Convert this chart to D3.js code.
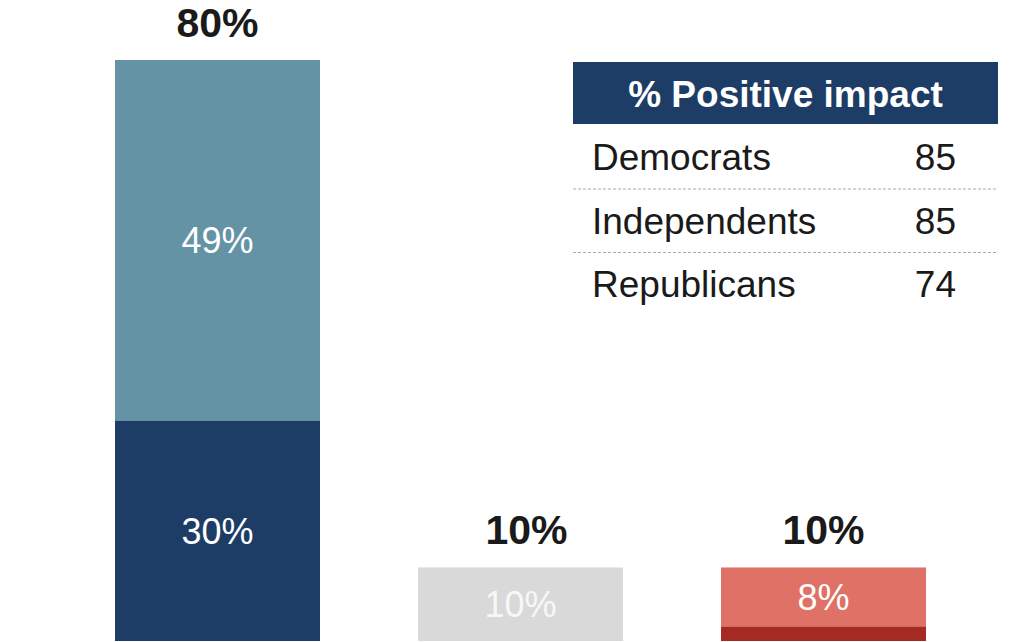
<!DOCTYPE html>
<html>
<head>
<meta charset="utf-8">
<script src="https://cdn.jsdelivr.net/npm/d3@7"></script>
<style>
  body { margin: 0; background: #fff; }
  svg { display: block; font-family: "Liberation Sans", Arial, sans-serif; }
</style>
</head>
<body>
<script>
// chart data
const categories = ["Positive impact", "No impact", "Negative impact"];
const lowerValues = [30, 10, 2];
const upperValues = [49, 0, 8];
const totalLabels = ["80%", "10%", "10%"];
const lowerColors = ["#1d3d66", "#d9d9d9", "#a52b22"];
const upperColors = ["#6593a6", "#d9d9d9", "#e07166"];

const tableTitle = "% Positive impact";
const tableRows = ["Democrats", "Independents", "Republicans"];
const tableValues = [85, 85, 74];

const w = 1013, h = 642;

const svg = d3.select("body").append("svg")
    .attr("width", w)
    .attr("height", h);

const rows = categories.map((c, i) => ({cat: c, lower: lowerValues[i], upper: upperValues[i], i: i}));
const stacked = d3.stack().keys(["lower", "upper"])(rows);

const x = d3.scaleBand()
    .domain(categories)
    .range([115, 926])
    .paddingInner(98 / 303)
    .paddingOuter(0);

const y = d3.scaleLinear()
    .domain([0, 79])
    .range([641, 60]);

stacked.forEach(layer => {
    const colors = layer.key === "lower" ? lowerColors : upperColors;
    const g = svg.append("g").attr("class", "layer-" + layer.key);
    g.selectAll("rect")
        .data(layer.filter(d => d[1] > d[0]))
        .enter()
        .append("rect")
        .attr("x", d => x(d.data.cat))
        .attr("y", d => y(d[1]))
        .attr("width", x.bandwidth())
        .attr("height", d => y(d[0]) - y(d[1]))
        .attr("fill", d => colors[d.data.i]);

    g.selectAll("text")
        .data(layer.filter(d => d[1] - d[0] >= 5))
        .enter()
        .append("text")
        .attr("x", d => x(d.data.cat) + x.bandwidth() / 2)
        .attr("y", d => (y(d[0]) + y(d[1])) / 2)
        .attr("dy", "0.36em")
        .attr("text-anchor", "middle")
        .style("font-size", "36px")
        .attr("fill", d => d.data.i === 1 ? "#f7f7f7" : "#ffffff")
        .text(d => (d[1] - d[0]) + "%");
});

// totals above bars (middle one sits a bit right in the original)
svg.selectAll(".total")
    .data(rows)
    .enter()
    .append("text")
    .attr("class", "total")
    .attr("x", d => x(d.cat) + x.bandwidth() / 2)
    .attr("dx", d => d.i === 1 ? 6 : 0)
    .attr("y", d => y(d.lower + d.upper) - 23)
    .attr("text-anchor", "middle")
    .style("font-size", "41px")
    .style("font-weight", "bold")
    .attr("fill", "#1a1a1a")
    .text(d => totalLabels[d.i]);

// side table
const tx = 573, tw = 425, rowH = 63.5;
const table = svg.append("g").attr("class", "table");

table.append("rect")
    .attr("x", tx)
    .attr("y", 62)
    .attr("width", tw)
    .attr("height", 62)
    .attr("fill", "#1d3d66");

table.append("text")
    .attr("x", tx + tw / 2)
    .attr("y", 107)
    .attr("text-anchor", "middle")
    .style("font-size", "37px")
    .style("font-weight", "bold")
    .attr("fill", "#fff")
    .text(tableTitle);

tableRows.forEach((r, i) => {
    const base = 170 + i * rowH;
    table.append("text")
        .attr("x", 592)
        .attr("y", base)
        .style("font-size", "37px")
        .attr("fill", "#1a1a1a")
        .text(r);
    table.append("text")
        .attr("x", 956)
        .attr("y", base)
        .attr("text-anchor", "end")
        .style("font-size", "37px")
        .attr("fill", "#1a1a1a")
        .text(tableValues[i]);
    if (i < tableRows.length - 1) {
        table.append("line")
            .attr("x1", tx)
            .attr("x2", tx + tw)
            .attr("y1", base + 19)
            .attr("y2", base + 19)
            .attr("stroke", "#aaaaaa")
            .attr("stroke-width", 1)
            .attr("stroke-dasharray", "3,2");
    }
});
</script>
</body>
</html>
